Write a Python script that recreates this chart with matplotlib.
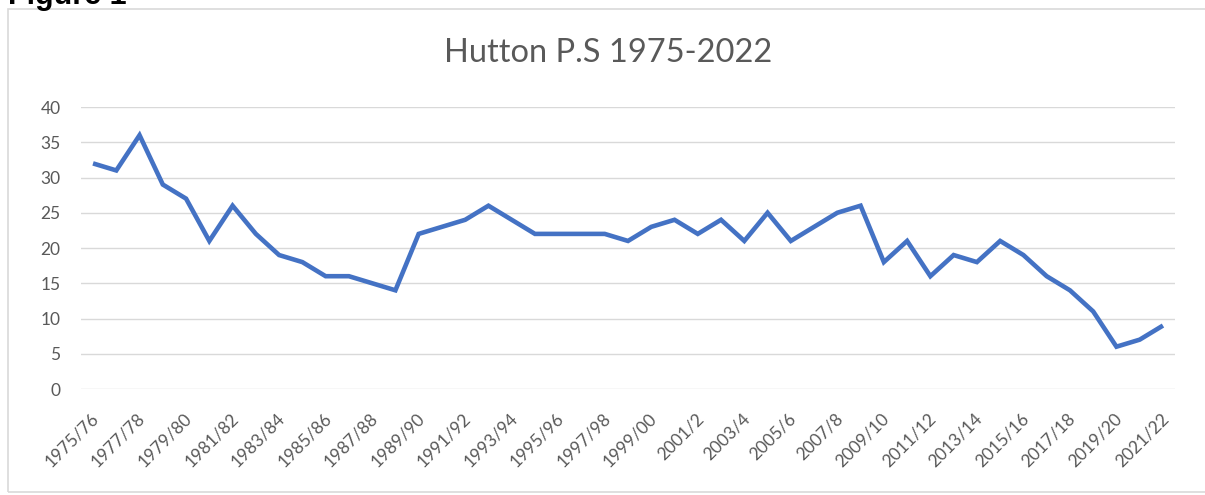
import matplotlib
matplotlib.use("Agg")
import matplotlib.pyplot as plt
import matplotlib.transforms as mtransforms
from matplotlib.patches import Rectangle

seasons = ["1975/76", "1976/77", "1977/78", "1978/79", "1979/80", "1980/81", "1981/82",
           "1982/83", "1983/84", "1984/85", "1985/86", "1986/87", "1987/88", "1988/89",
           "1989/90", "1990/91", "1991/92", "1992/93", "1993/94", "1994/95", "1995/96",
           "1996/97", "1997/98", "1998/99", "1999/00", "2000/1", "2001/2", "2002/3",
           "2003/4", "2004/5", "2005/6", "2006/7", "2007/8", "2008/9", "2009/10",
           "2010/11", "2011/12", "2012/13", "2013/14", "2014/15", "2015/16", "2016/17",
           "2017/18", "2018/19", "2019/20", "2020/21", "2021/22"]
values = [32, 31, 36, 29, 27, 21, 26, 22, 19, 18, 16, 16, 15, 14,
          22, 23, 24, 26, 24, 22, 22, 22, 22, 21, 23, 24, 22, 24,
          21, 25, 21, 23, 25, 26, 18, 21, 16, 19, 18, 21, 19, 16,
          14, 11, 6, 7, 9]
yticks = [0, 5, 10, 15, 20, 25, 30, 35, 40]
title = "Hutton P.S 1975-2022"

W, H = 1205, 495
fig = plt.figure(figsize=(W / 100, H / 100), dpi=100)
fig.patch.set_facecolor("white")

# chart area border
fig.patches.append(Rectangle((8 / W, (H - 492) / H), (W + 20) / W, (492 - 9) / H,
                             transform=fig.transFigure, fill=False,
                             edgecolor="#D9D9D9", linewidth=1.2))

# "Figure 1" heading, cut off at the top as in the reference
fig.text(8 / W, 1 - 4 / H, "Figure 1", fontsize=22, fontweight="bold",
         family="Liberation Sans", color="black", va="baseline", ha="left")

ax = fig.add_axes([81.4 / W, (H - 389) / H, (1174.6 - 81.4) / W, (389 - 107) / H])
x = list(range(len(seasons)))
ax.plot(x, values, color="#4472C4", linewidth=3.3, solid_joinstyle="miter",
        solid_capstyle="butt")

ax.set_xlim(-0.5, len(seasons) - 0.5)
ax.set_ylim(0, 40)
ax.set_yticks(yticks)
ax.set_yticklabels([str(v) for v in yticks])
ax.yaxis.grid(True, color="#D9D9D9", linewidth=1)
ax.set_axisbelow(True)
for s in ax.spines.values():
    s.set_visible(False)
ax.tick_params(axis="both", length=0, colors="#595959", labelsize=12.5)
ax.tick_params(axis="y", pad=15)

ax.set_xticks(x[::2])
ax.set_xticklabels(seasons[::2], rotation=45, ha="right", va="center",
                   rotation_mode="anchor", family="Lato", color="#595959")
ax.tick_params(axis="x", pad=19.5)
offset = mtransforms.ScaledTranslation(3 / 100, 0, fig.dpi_scale_trans)
for lbl in ax.get_xticklabels():
    lbl.set_transform(lbl.get_transform() + offset)
for lbl in ax.get_yticklabels():
    lbl.set_family("Lato")

fig.text(608 / W, 1 - 53 / H, title, fontsize=23.5, family="Lato", color="#595959",
         ha="center", va="center")

fig.savefig("out.png", dpi=100, facecolor="white")
